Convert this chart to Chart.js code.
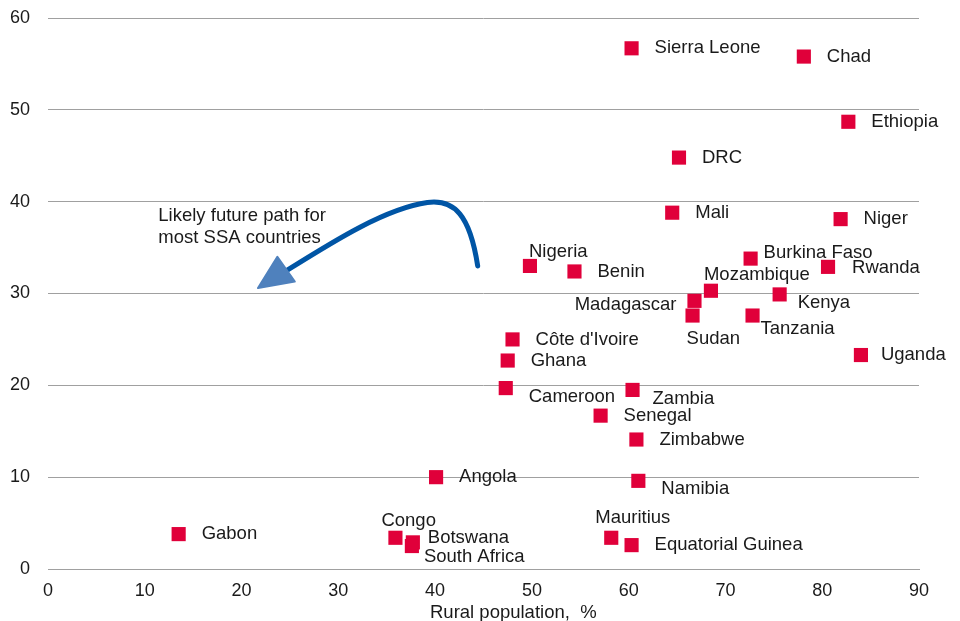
<!DOCTYPE html>
<html>
<head>
<meta charset="utf-8">
<script src="https://cdn.jsdelivr.net/npm/chart.js@4/dist/chart.umd.min.js"></script>
<style>
  html, body { margin: 0; padding: 0; background: #fff; overflow: hidden; }
  #wrap { width: 960px; height: 621px; position: relative; }
</style>
</head>
<body>
<div id="wrap"><canvas id="myChart" width="960" height="621"></canvas></div>
<script>
// data: rural population % vs. y value
var countries = ["Sierra Leone", "Chad", "Ethiopia", "DRC", "Mali", "Niger", "Nigeria", "Benin",
  "Burkina Faso", "Rwanda", "Mozambique", "Kenya", "Madagascar", "Sudan", "Tanzania", "Uganda",
  "Côte d'Ivoire", "Ghana", "Cameroon", "Zambia", "Senegal", "Zimbabwe", "Angola", "Namibia",
  "Gabon", "Congo", "Botswana", "South Africa", "Mauritius", "Equatorial Guinea"];
var ruralPct = [60.3, 78.1, 82.7, 65.2, 64.5, 81.9, 49.8, 54.4,
  72.6, 80.6, 68.5, 75.6, 66.8, 66.6, 72.8, 84.0,
  48.0, 47.5, 47.3, 60.4, 57.1, 60.8, 40.1, 61.0,
  13.5, 35.9, 37.7, 37.6, 58.2, 60.3];
var yValues = [56.7, 55.8, 48.7, 44.8, 38.8, 38.1, 33.0, 32.4,
  33.8, 32.9, 30.3, 29.9, 29.2, 27.6, 27.6, 23.3,
  25.0, 22.7, 19.7, 19.5, 16.7, 14.1, 10.0, 9.6,
  3.8, 3.4, 2.9, 2.5, 3.4, 2.6];
var xTicks = [0, 10, 20, 30, 40, 50, 60, 70, 80, 90];
var yTicks = [0, 10, 20, 30, 40, 50, 60];

// label placement (pixels from the marker), default is right of the marker
var labelPos = {
  "Nigeria": [-1, -14, "left"],
  "Burkina Faso": [13, -6, "left"],
  "Rwanda": [24, 1, "left"],
  "Mozambique": [-7, -16, "left"],
  "Kenya": [18, 8, "left"],
  "Madagascar": [-18, 4, "right"],
  "Sudan": [-6, 23, "left"],
  "Tanzania": [8, 13, "left"],
  "Uganda": [20, 0, "left"],
  "Cameroon": [23, 9, "left"],
  "Zambia": [20, 9, "left"],
  "Namibia": [23, 8, "left"],
  "Congo": [-14, -17, "left"],
  "Botswana": [15, -4, "left"],
  "South Africa": [12, 11, "left"],
  "Mauritius": [-16, -20, "left"]
};

var FONT = "'Liberation Sans', Arial, sans-serif";

var points = ruralPct.map(function (x, i) { return { x: x, y: yValues[i] }; });

var labelPlugin = {
  id: 'pointLabels',
  afterDatasetsDraw: function (chart) {
    var ctx = chart.ctx;
    var meta = chart.getDatasetMeta(0);
    ctx.save();
    ctx.font = "18.5px " + FONT;
    ctx.fillStyle = "#1a1a1a";
    ctx.textBaseline = "middle";
    meta.data.forEach(function (el, i) {
      var name = countries[i];
      var p = labelPos[name] || [23, 0, "left"];
      ctx.textAlign = p[2];
      ctx.fillText(name, el.x + p[0], el.y + p[1]);
    });
    ctx.restore();
  }
};

var arrowPlugin = {
  id: 'arrowNote',
  afterDatasetsDraw: function (chart) {
    var ctx = chart.ctx;
    var xs = chart.scales.x, ys = chart.scales.y;
    function P(x, y) { return [xs.getPixelForValue(x), ys.getPixelForValue(y)]; }
    var a = P(44.4, 33.0), c1 = P(43.6, 38.5), c2 = P(42.0, 40.3),
        m = P(39.2, 39.9), c3 = P(34.5, 39.2), c4 = P(28.5, 35.0), e = P(23.6, 31.8);
    ctx.save();
    ctx.strokeStyle = "#0055A5";
    ctx.lineWidth = 5;
    ctx.lineCap = "round";
    ctx.beginPath();
    ctx.moveTo(a[0], a[1]);
    ctx.bezierCurveTo(c1[0], c1[1], c2[0], c2[1], m[0], m[1]);
    ctx.bezierCurveTo(c3[0], c3[1], c4[0], c4[1], e[0], e[1]);
    ctx.stroke();
    var t = P(21.7, 30.6), u = P(23.7, 34.0), l = P(25.5, 31.3);
    ctx.fillStyle = "#4F81BD";
    ctx.strokeStyle = "#4F81BD";
    ctx.lineWidth = 2;
    ctx.lineJoin = "round";
    ctx.beginPath();
    ctx.moveTo(t[0], t[1]);
    ctx.lineTo(u[0], u[1]);
    ctx.lineTo(l[0], l[1]);
    ctx.closePath();
    ctx.fill();
    ctx.stroke();

    var n = P(11.4, 38.4);
    ctx.font = "18.5px " + FONT;
    ctx.fillStyle = "#1a1a1a";
    ctx.textAlign = "left";
    ctx.textBaseline = "middle";
    ctx.fillText("Likely future path for", n[0], n[1]);
    ctx.fillText("most SSA countries", n[0], n[1] + 22);

    // x axis title
    ctx.fillText("Rural population,  %", 430, 613);
    ctx.restore();
  }
};

var ctx = document.getElementById("myChart").getContext("2d");
var myScatter = new Chart(ctx, {
  type: 'scatter',
  data: {
    datasets: [{
      label: "Countries",
      data: points,
      pointStyle: 'rect',
      pointRadius: 10,
      pointHoverRadius: 10,
      backgroundColor: '#E0003A',
      borderColor: '#E0003A',
      borderWidth: 0
    }]
  },
  options: {
    responsive: false,
    animation: false,
    layout: { padding: { top: 18, right: 41, left: 0, bottom: 0 } },
    plugins: { legend: { display: false }, tooltip: { enabled: false } },
    scales: {
      x: {
        type: 'linear', min: 0, max: 90,
        afterFit: function (s) { s.height = 52; },
        afterBuildTicks: function (s) { s.ticks = xTicks.map(function (v) { return { value: v }; }); },
        grid: { display: false, drawTicks: false },
        border: { display: true, color: '#A0A0A0', width: 1 },
        ticks: { color: '#1a1a1a', font: { family: FONT, size: 18 }, padding: 11, maxRotation: 0 }
      },
      y: {
        type: 'linear', min: 0, max: 60,
        afterFit: function (s) { s.width = 48; s.paddingTop = 0; s.paddingBottom = 0; },
        afterBuildTicks: function (s) { s.ticks = yTicks.map(function (v) { return { value: v }; }); },
        grid: { color: '#A0A0A0', lineWidth: 1, drawTicks: false },
        border: { display: false },
        ticks: { color: '#1a1a1a', font: { family: FONT, size: 18 }, padding: 18 }
      }
    }
  },
  plugins: [labelPlugin, arrowPlugin]
});
</script>
</body>
</html>
